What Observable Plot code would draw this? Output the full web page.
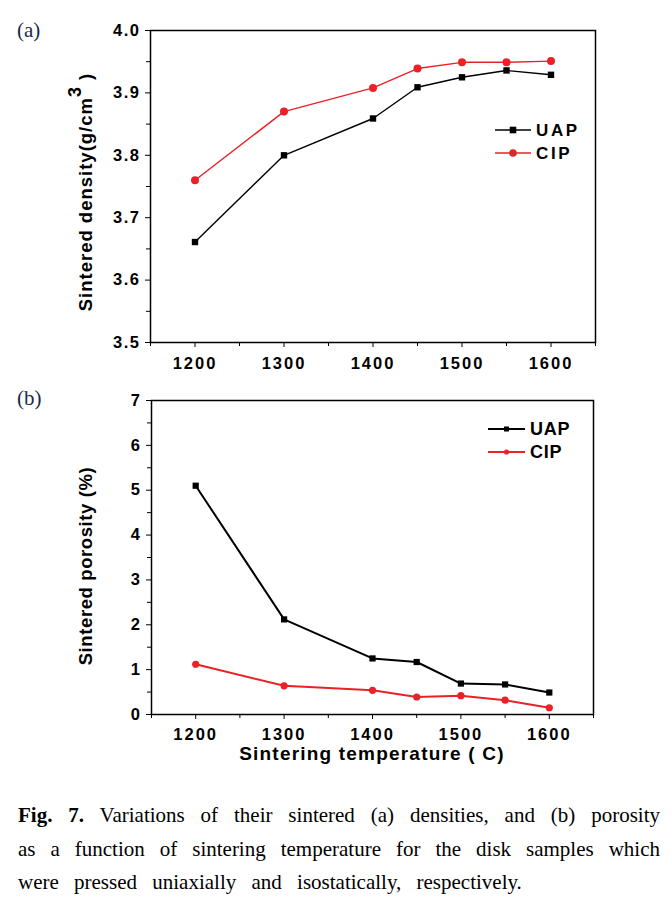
<!DOCTYPE html>
<html>
<head>
<meta charset="utf-8">
<script src="https://cdn.jsdelivr.net/npm/d3@7"></script>
<script src="https://cdn.jsdelivr.net/npm/@observablehq/plot@0.6"></script>
<style>
  html, body { margin: 0; padding: 0; background: #fff; }
  #wrap { position: relative; width: 672px; height: 906px; overflow: hidden; background: #fff; }
  .panel { position: absolute; left: 0; }
  .panel svg text { font-family: "Liberation Sans", Arial, sans-serif !important; font-weight: bold !important; }
  .panel svg g[aria-label="x-axis tick label"] text { letter-spacing: 2px; }
  .panel svg g[aria-label="y-axis tick label"] text { letter-spacing: 1.5px; }
  .tag { position: absolute; left: 17px; font-family: "Liberation Serif", "Times New Roman", serif; font-size: 21px; color: #1a2a4a; line-height: 1; z-index: 5; }
  #caption { position: absolute; left: 18px; top: 799px; width: 642px; font-family: "Liberation Serif", "Times New Roman", serif; font-size: 21px; line-height: 33.5px; color: #000; }
  #caption div { text-align: justify; text-align-last: justify; white-space: nowrap; }
  #caption div.last { text-align-last: left; word-spacing: 10px; }
</style>
</head>
<body>
<div id="wrap">
  <div class="panel" id="pa" style="top:0px"></div>
  <div class="panel" id="pb" style="top:380px"></div>
  <div class="tag" style="top:20px">(a)</div>
  <div class="tag" style="top:388px">(b)</div>
  <div id="caption">
    <div><b>Fig. 7.</b> Variations of their sintered (a) densities, and (b) porosity</div>
    <div>as a function of sintering temperature for the disk samples which</div>
    <div class="last">were pressed uniaxially and isostatically, respectively.</div>
  </div>
</div>
<script>
// ---- data ----
const temps = [1200, 1300, 1400, 1450, 1500, 1550, 1600];
const densityUAP = [3.661, 3.800, 3.859, 3.909, 3.925, 3.936, 3.929];
const densityCIP = [3.760, 3.870, 3.908, 3.939, 3.949, 3.949, 3.951];
const porosityUAP = [5.10, 2.12, 1.25, 1.17, 0.69, 0.67, 0.49];
const porosityCIP = [1.12, 0.64, 0.54, 0.39, 0.42, 0.32, 0.15];
const seriesNames = ["UAP", "CIP"];
const xTicks = [1200, 1300, 1400, 1500, 1600];
const xMinorTicks = [1150, 1250, 1350, 1450, 1550, 1650];
const densityTicks = [3.5, 3.6, 3.7, 3.8, 3.9, 4.0];
const densityMinorTicks = [3.55, 3.65, 3.75, 3.85, 3.95];
const porosityTicks = [0, 1, 2, 3, 4, 5, 6, 7];
const porosityMinorTicks = [0.5, 1.5, 2.5, 3.5, 4.5, 5.5, 6.5];

const RED = "#ea2127";
const BLACK = "#000";
const FONT = "Liberation Sans, Arial, sans-serif";

const densityRows = temps.map((t, i) => ({ t, uap: densityUAP[i], cip: densityCIP[i] }));
const porosityRows = temps.map((t, i) => ({ t, uap: porosityUAP[i], cip: porosityCIP[i] }));

function axes(yTicks, yMinor, yFmt, xPad) {
  return [
    Plot.axisX({ ticks: xTicks, tickSize: 5, tickPadding: xPad, tickFormat: d => String(d), fontSize: 16.5, label: null, stroke: BLACK, fill: BLACK }),
    Plot.axisX({ ticks: xMinorTicks, tickSize: 4, tickFormat: () => "", label: null, stroke: BLACK }),
    Plot.axisY({ ticks: yTicks, tickSize: 5, tickPadding: 5, tickFormat: yFmt, fontSize: 16.5, label: null, stroke: BLACK, fill: BLACK }),
    Plot.axisY({ ticks: yMinor, tickSize: 4, tickFormat: () => "", label: null, stroke: BLACK })
  ];
}
const plotStyle = { fontFamily: FONT, fontWeight: "bold", fontSize: "16px", color: "black", background: "transparent" };

// ---- panel (a) ----
const pa = Plot.plot({
  width: 672, height: 380,
  marginLeft: 150, marginRight: 77, marginTop: 30, marginBottom: 38,
  style: plotStyle,
  x: { domain: [1150, 1650] },
  y: { domain: [3.5, 4.0] },
  marks: [
    ...axes(densityTicks, densityMinorTicks, d => d.toFixed(1), 10),
    Plot.line(densityRows, { x: "t", y: "uap", stroke: BLACK, strokeWidth: 1.4 }),
    Plot.line(densityRows, { x: "t", y: "cip", stroke: RED, strokeWidth: 1.4 }),
    Plot.dot(densityRows, { x: "t", y: "uap", symbol: "square", r: 3.6, fill: BLACK }),
    Plot.dot(densityRows, { x: "t", y: "cip", symbol: "circle", r: 4, fill: RED }),
    Plot.frame({ stroke: BLACK, strokeWidth: 1.5 })
  ]
});
document.getElementById("pa").append(pa);

// ---- panel (b) ----
const pb = Plot.plot({
  width: 672, height: 400,
  marginLeft: 151, marginRight: 79, marginTop: 20, marginBottom: 66,
  style: plotStyle,
  x: { domain: [1150, 1650] },
  y: { domain: [0, 7] },
  marks: [
    ...axes(porosityTicks, porosityMinorTicks, d => String(d), 9),
    Plot.line(porosityRows, { x: "t", y: "uap", stroke: BLACK, strokeWidth: 2 }),
    Plot.line(porosityRows, { x: "t", y: "cip", stroke: RED, strokeWidth: 2 }),
    Plot.dot(porosityRows, { x: "t", y: "uap", symbol: "square", r: 3.5, fill: BLACK }),
    Plot.dot(porosityRows, { x: "t", y: "cip", symbol: "circle", r: 3.6, fill: RED }),
    Plot.frame({ stroke: BLACK, strokeWidth: 1.5 })
  ]
});
document.getElementById("pb").append(pb);

// ---- axis titles ----
const sa = d3.select(pa);
const ta = sa.append("text")
  .attr("transform", "translate(92,192) rotate(-90)")
  .attr("text-anchor", "middle").attr("font-family", FONT).attr("font-weight", "bold")
  .attr("font-size", 18.5).attr("fill", BLACK)
  .style("letter-spacing", "1px");
ta.append("tspan").text("Sintered density(g/cm");
ta.append("tspan").attr("dy", -11).attr("font-size", 18).text("3");
ta.append("tspan").attr("dy", 11).text(" )");

const sb = d3.select(pb);
sb.append("text")
  .attr("transform", "translate(92,186) rotate(-90)")
  .attr("text-anchor", "middle").attr("font-family", FONT).attr("font-weight", "bold")
  .attr("font-size", 18.5).attr("fill", BLACK)
  .style("letter-spacing", "0.6px")
  .text("Sintered porosity (%)");
sb.append("text")
  .attr("x", 372).attr("y", 380)
  .attr("text-anchor", "middle").attr("font-family", FONT).attr("font-weight", "bold")
  .attr("font-size", 19).attr("fill", BLACK)
  .style("letter-spacing", "1.2px")
  .text("Sintering temperature ( C)");

// ---- legends ----
function legend(svg, x0, x1, ys, colors, symbols, sw, rs, fs, ls, tx) {
  seriesNames.forEach((name, i) => {
    const g = svg.append("g");
    const y = ys[i];
    g.append("line").attr("x1", x0).attr("x2", x1).attr("y1", y).attr("y2", y)
      .attr("stroke", colors[i]).attr("stroke-width", sw);
    const xm = (x0 + x1) / 2;
    if (symbols[i] === "square") {
      g.append("rect").attr("x", xm - rs[i]).attr("y", y - rs[i]).attr("width", 2 * rs[i]).attr("height", 2 * rs[i]).attr("fill", colors[i]);
    } else {
      g.append("circle").attr("cx", xm).attr("cy", y).attr("r", rs[i]).attr("fill", colors[i]);
    }
    g.append("text").attr("x", tx).attr("y", y).attr("dy", "0.36em")
      .attr("text-anchor", "start").attr("font-family", FONT).attr("font-weight", "bold")
      .attr("font-size", fs).attr("fill", BLACK).style("letter-spacing", ls).text(name);
  });
}
legend(sa, 495, 531, [130, 153], [BLACK, RED], ["square", "circle"], 1.4, [3.3, 3.8], 17, "2.6px", 536);
legend(sb, 488, 525, [49, 72], [BLACK, RED], ["square", "circle"], 2, [2.5, 2.6], 18, "0.8px", 530);
</script>
</body>
</html>
